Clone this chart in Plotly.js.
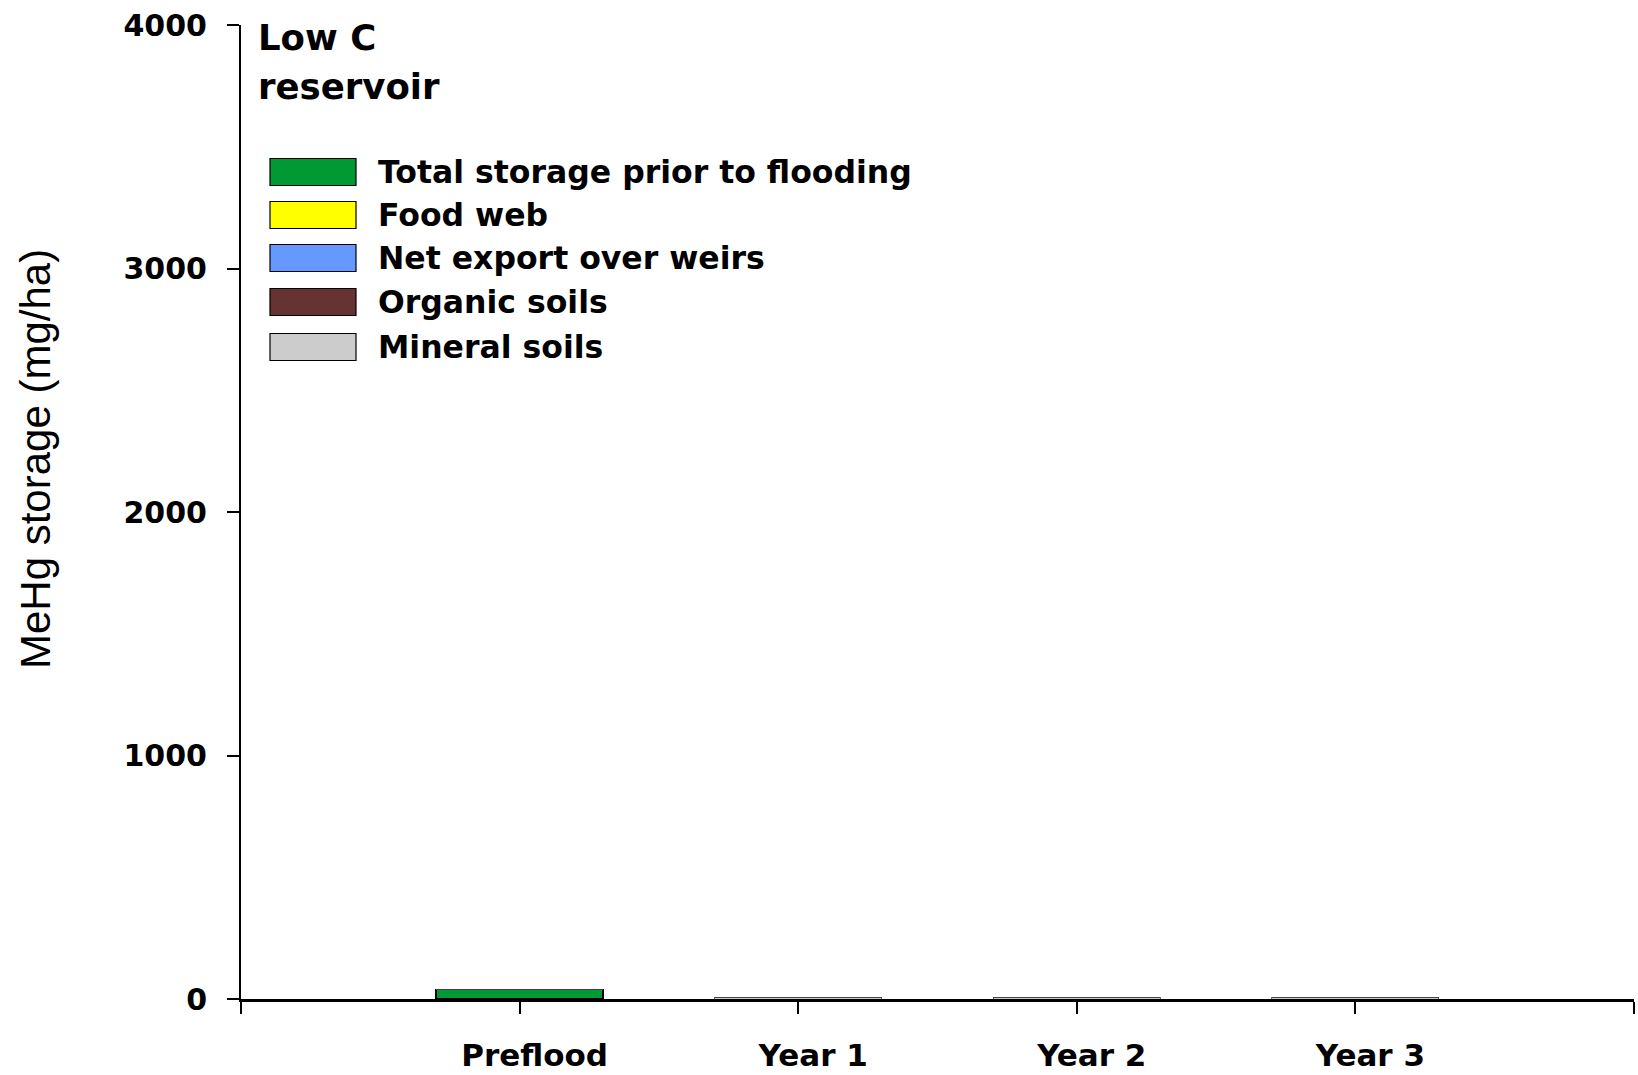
<!DOCTYPE html>
<html>
<head>
<meta charset="utf-8">
<script src="https://cdn.plot.ly/plotly-3.0.1.min.js"></script>
<style>html,body{margin:0;padding:0;background:#fff}#chart{width:1638px;height:1075px}</style>
</head>
<body>
<div id="chart"></div>
<script>
// ---- data ----
const categories = ['Preflood', 'Year 1', 'Year 2', 'Year 3'];
const seriesNames = ['Total storage prior to flooding', 'Food web', 'Net export over weirs', 'Organic soils', 'Mineral soils'];
const totalStorage = [40, 0, 0, 0];
const foodWeb = [0, 0.3, 0.3, 0.3];
const netExport = [0, 0.5, 0.5, 0.5];
const organicSoils = [0, 1, 1, 1];
const mineralSoils = [0, 5, 5, 5];
const yTickVals = [0, 1000, 2000, 3000, 4000];
const panelTitleLines = ['Low C', 'reservoir'];
const yTitle = 'MeHg storage (mg/ha)';

// ---- style ----
const colors = ['#009933', '#FFFF00', '#6699FF', '#663333', '#CCCCCC'];
const boldFont = {family: 'DejaVu Sans, Liberation Sans, Arial, sans-serif', color: '#000', weight: 'bold'};
const W = 1638, H = 1075;
const M = {l: 241, r: 4, t: 25, b: 76};
const PW = W - M.l - M.r, PH = H - M.t - M.b;
const px2x = X => (X - M.l) / PW;
const px2y = Y => (H - M.b - Y) / PH;

const xs = categories.map((c, i) => i);
const stackOrder = [mineralSoils, organicSoils, netExport, foodWeb];
const stackIdx = [4, 3, 2, 1];

const traces = [];
traces.push({
  type: 'bar', x: xs, y: totalStorage, name: seriesNames[0], width: 0.6,
  marker: {color: colors[0], line: {color: '#000', width: 1.5}}, showlegend: false
});
stackOrder.forEach((arr, k) => {
  const idx = stackIdx[k];
  traces.push({
    type: 'bar', x: xs, y: arr, name: seriesNames[idx], width: 0.6,
    marker: {color: colors[idx], line: {color: '#444', width: 0.8}}, showlegend: false
  });
});

// manual legend (large swatches)
const legendRowsY = [172, 215, 258, 302, 347];
const shapes = [];
const annotations = [];
seriesNames.forEach((n, i) => {
  const cy = legendRowsY[i];
  shapes.push({
    type: 'rect', xref: 'paper', yref: 'paper',
    x0: px2x(270), x1: px2x(356), y0: px2y(cy + 13.5), y1: px2y(cy - 13.5),
    fillcolor: colors[i], line: {color: '#000', width: 1.2}
  });
  annotations.push({
    xref: 'paper', yref: 'paper', x: px2x(376), y: px2y(cy),
    xanchor: 'left', yanchor: 'middle', showarrow: false,
    text: n, font: Object.assign({}, boldFont, {size: 31.5})
  });
});

// panel title (two lines)
const titleRowsY = [38, 86];
panelTitleLines.forEach((t, i) => {
  annotations.push({
    xref: 'paper', yref: 'paper', x: px2x(256), y: px2y(titleRowsY[i]),
    xanchor: 'left', yanchor: 'middle', showarrow: false,
    text: t, font: Object.assign({}, boldFont, {size: 35.5})
  });
});

// y-axis title
annotations.push({
  xref: 'paper', yref: 'paper', x: px2x(35), y: px2y(459),
  xanchor: 'center', yanchor: 'middle', showarrow: false, textangle: -90,
  text: yTitle, font: {family: 'Liberation Sans, Arial, sans-serif', size: 42, color: '#000'}
});

const tickVals = [-1].concat(xs, [categories.length]);
const tickText = [''].concat(categories, ['']);

const layout = {
  width: W, height: H,
  margin: M,
  paper_bgcolor: '#fff', plot_bgcolor: '#fff',
  barmode: 'stack',
  showlegend: false,
  xaxis: {
    type: 'linear', range: [-1, categories.length],
    tickmode: 'array', tickvals: tickVals, ticktext: tickText,
    showgrid: false, zeroline: false,
    showline: true, linecolor: '#000', linewidth: 3,
    ticks: 'outside', ticklen: 12, tickwidth: 2, tickcolor: '#000',
    tickfont: Object.assign({}, boldFont, {size: 31}),
    ticklabelshift: 15, ticklabelstandoff: 15
  },
  yaxis: {
    range: [0, 4000], tickmode: 'array', tickvals: yTickVals,
    showgrid: false, zeroline: false,
    showline: true, linecolor: '#000', linewidth: 2,
    ticks: 'outside', ticklen: 12, tickwidth: 2, tickcolor: '#000',
    tickfont: Object.assign({}, boldFont, {size: 30}),
    ticklabelstandoff: 14
  },
  shapes: shapes,
  annotations: annotations
};

Plotly.newPlot('chart', traces, layout, {displayModeBar: false, staticPlot: true});
</script>
</body>
</html>
